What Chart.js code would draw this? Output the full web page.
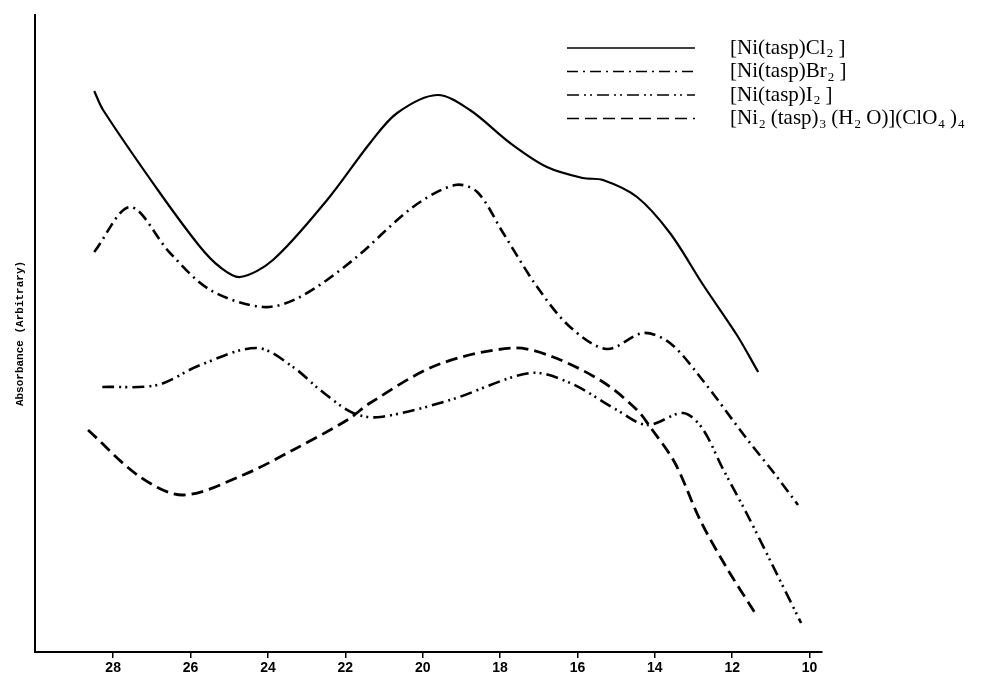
<!DOCTYPE html>
<html>
<head>
<meta charset="utf-8">
<script src="https://cdn.jsdelivr.net/npm/chart.js@4/dist/chart.umd.min.js"></script>
<style>
  html, body { margin: 0; padding: 0; background: #fff; }
  #wrap { width: 989px; height: 686px; }
</style>
</head>
<body>
<div id="wrap"><canvas id="spectra"></canvas></div>
<script>
// wavenumber (x 10^3 cm^-1) and absorbance (arbitrary)
const xTicks = [28, 26, 24, 22, 20, 18, 16, 14, 12, 10];

const clWave = [28.49, 28.26, 26.79, 25.75, 25.24, 24.72, 23.87, 22.47, 21.36, 20.66, 19.63, 18.78, 17.74, 16.79, 15.86, 15.34, 14.46, 13.61, 12.75, 11.88, 11.33];
const clAbs  = [561, 542, 459, 405, 385, 375, 392, 452, 509, 539, 557, 542, 509, 485, 474, 472, 455, 419, 367, 317, 280];

const brWave = [28.49, 27.56, 26.53, 25.49, 24.12, 23.17, 21.80, 20.25, 19.16, 18.59, 17.92, 17.04, 16.19, 15.24, 14.30, 13.61, 12.83, 11.62, 10.92, 10.30];
const brAbs  = [400, 445, 399, 362, 345, 355, 392, 445, 467, 460, 419, 365, 325, 303, 319, 309, 275, 213, 179, 147];

const iWave = [28.28, 26.86, 25.75, 24.28, 23.35, 22.65, 21.80, 21.10, 19.29, 17.22, 16.19, 14.98, 14.20, 13.27, 12.78, 12.24, 11.62, 11.00, 10.22];
const iAbs  = [265, 267, 287, 304, 285, 262, 239, 235, 252, 279, 269, 242, 227, 239, 224, 183, 138, 90, 29];

const clo4Wave = [28.65, 27.30, 26.19, 24.64, 23.35, 21.95, 21.36, 19.63, 17.66, 16.63, 15.34, 14.46, 14.12, 13.48, 12.83, 12.14, 11.41];
const clo4Abs  = [222, 175, 157, 177, 202, 232, 249, 287, 304, 295, 270, 242, 225, 189, 132, 84, 39];

// "_" marks a subscript run
const seriesNames = [
  "[Ni(tasp)Cl_2 ]",
  "[Ni(tasp)Br_2 ]",
  "[Ni(tasp)I_2 ]",
  "[Ni_2 (tasp)_3 (H_2 O)](ClO_4 )_4"
];

const pts = (xs, ys) => xs.map((x, i) => ({ x: x, y: ys[i] }));

// legend drawn by hand so the subscripts look right
const legendPlugin = {
  id: "subLegend",
  afterDraw(chart, args, opts) {
    const ctx = chart.ctx;
    ctx.save();
    chart.data.datasets.forEach((ds, i) => {
      const y = opts.top + i * opts.rowGap;
      ctx.strokeStyle = "#000";
      ctx.lineWidth = 1.6;
      ctx.setLineDash(ds.borderDash || []);
      ctx.beginPath();
      ctx.moveTo(opts.lineX0, y);
      ctx.lineTo(opts.lineX1, y);
      ctx.stroke();
      ctx.setLineDash([]);

      let x = opts.textX;
      ctx.fillStyle = "#000";
      ctx.textBaseline = "middle";
      const parts = ds.label.split(/(_\d)/);
      parts.forEach(p => {
        if (!p) return;
        if (p[0] === "_") {
          ctx.font = "13px 'Liberation Serif', serif";
          ctx.fillText(p.slice(1), x + 1, y + 6);
          x += ctx.measureText(p.slice(1)).width + 1;
        } else {
          ctx.font = "21px 'Liberation Serif', serif";
          ctx.fillText(p, x, y);
          x += ctx.measureText(p).width;
        }
      });
    });
    ctx.restore();
  }
};

const common = { borderColor: "#000", pointRadius: 0, fill: false, tension: 0.32 };

new Chart(document.getElementById("spectra"), {
  type: "line",
  data: {
    datasets: [
      { ...common, label: seriesNames[0], data: pts(clWave, clAbs), borderWidth: 2.2, borderDash: [] },
      { ...common, label: seriesNames[1], data: pts(brWave, brAbs), borderWidth: 2.6, borderDash: [11, 5, 2, 5] },
      { ...common, label: seriesNames[2], data: pts(iWave, iAbs), borderWidth: 2.6, borderDash: [12, 5, 2, 4, 2, 5] },
      { ...common, label: seriesNames[3], data: pts(clo4Wave, clo4Abs), borderWidth: 2.8, borderDash: [12, 6] }
    ]
  },
  options: {
    responsive: true,
    maintainAspectRatio: false,
    animation: false,
    layout: { padding: { top: 15, right: 167, left: 0, bottom: 0 } },
    plugins: {
      legend: { display: false },
      tooltip: { enabled: false },
      subLegend: { top: 48, rowGap: 23.5, lineX0: 567, lineX1: 695, textX: 730 }
    },
    scales: {
      x: {
        type: "linear",
        reverse: true,
        min: 9.68,
        max: 30.02,
        afterBuildTicks: axis => { axis.ticks = xTicks.map(v => ({ value: v })); },
        afterFit: axis => { axis.height = 34; },
        border: { display: true, color: "#000", width: 2 },
        grid: { drawOnChartArea: false, drawTicks: true, tickLength: 6, color: "#000", lineWidth: 1.5 },
        ticks: {
          color: "#000",
          padding: 2,
          maxRotation: 0,
          font: { family: "'Liberation Sans Narrow', 'Liberation Sans', sans-serif", size: 14, weight: "bold" }
        }
      },
      y: {
        min: 0,
        max: 637,
        afterFit: axis => { axis.width = 35; },
        border: { display: true, color: "#000", width: 2 },
        grid: { display: false },
        ticks: { display: false },
        title: {
          display: true,
          text: "Absorbance (Arbitrary)",
          color: "#000",
          padding: { top: 14, bottom: 0 },
          font: { family: "'Liberation Mono', monospace", size: 11, weight: "bold" }
        }
      }
    }
  },
  plugins: [legendPlugin]
});
</script>
</body>
</html>
